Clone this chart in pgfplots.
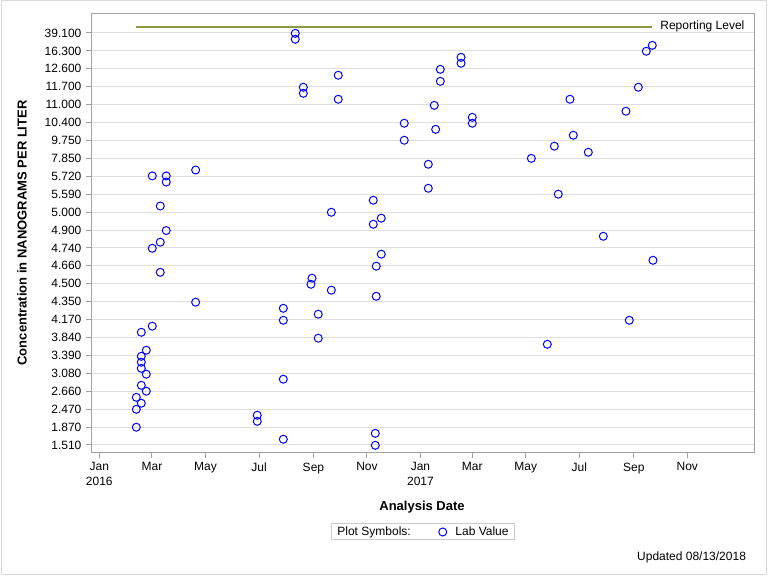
\documentclass[border=0pt]{standalone}
\usepackage{fontspec}
\setmainfont{Liberation Sans}
\usepackage{pgfplots}
\pgfplotsset{compat=1.18}
\usepackage{pgfplotstable}
\definecolor{labblue}{RGB}{0,0,255}
\definecolor{reportgreen}{RGB}{134,156,70}
\definecolor{framegray}{RGB}{160,160,160}
\definecolor{gridgray}{RGB}{222,222,222}

% x: days since 1 Jan 2016, y: position on the discrete concentration axis
\pgfplotstableread{
day idx
60.4 15.02
76.3 15.02
76.3 14.68
109.8 15.35
69.5 13.34
76.3 11.97
69.5 11.32
60.4 10.98
69.5 9.64
109.8 7.97
60.4 6.63
47.9 6.29
53.6 5.29
47.9 4.95
47.9 4.62
47.9 4.28
53.6 3.95
47.9 3.33
53.6 3.00
42.2 2.66
47.9 2.33
42.2 1.99
42.2 0.99
180.0 1.66
180.0 1.32
223.3 22.98
223.3 22.65
412.2 21.64
412.2 21.31
388.6 20.97
272.3 20.64
388.6 20.30
232.5 19.97
232.5 19.63
272.3 19.30
381.7 18.96
425.0 18.29
425.0 17.96
347.5 17.96
383.3 17.62
347.5 17.01
492.3 16.00
374.9 15.67
374.9 14.33
312.2 13.66
264.4 12.99
321.3 12.66
312.2 12.32
321.3 10.65
315.6 9.98
242.4 9.31
241.2 8.97
264.4 8.64
315.6 8.30
209.7 7.63
249.5 7.30
209.7 6.96
249.5 5.96
209.7 3.67
314.5 0.65
209.7 0.32
314.5 -0.02
630.1 22.31
623.3 21.98
614.2 19.97
536.3 19.30
600.1 18.63
540.1 17.29
518.5 16.68
557.2 16.34
523.0 14.00
574.3 11.65
630.9 10.31
603.9 6.96
510.5 5.62
}\labdata

\begin{document}
\begin{tikzpicture}
\path (0,0) rectangle (576pt,432pt);
\draw[gray!30, line width=0.75pt] (0.75pt,1.1pt) rectangle (575pt,431.25pt);
\begin{axis}[
  at={(68.6pt,92.5pt)}, anchor=south west,
  scale only axis, width=496.9pt, height=329.55pt,
  xmin=-8.9, xmax=746, ymin=-0.43, ymax=24.10,
  axis line style={framegray, line width=0.75pt},
  tick pos=left, tick align=outside, major tick length=4pt,
  tick style={framegray, line width=0.75pt},
  xtick={0,60,121,182,244,305,366,425,486,547,609,670},
  xticklabels={Jan\\2016,Mar,May,Jul,Sep,Nov,Jan\\2017,Mar,May,Jul,Sep,Nov},
  xticklabel style={align=center, font=\fontsize{9}{11}\selectfont},
  ytick={0,...,23},
  yticklabels={1.510,1.870,2.470,2.660,3.080,3.390,3.840,4.170,4.350,4.500,4.660,4.740,4.900,5.000,5.590,5.720,7.850,9.750,10.400,11.000,11.700,12.600,16.300,39.100},
  yticklabel style={font=\fontsize{9}{11}\selectfont},
  ymajorgrids, grid style={gridgray, line width=0.75pt},
  xlabel={Analysis Date},
  xlabel style={font=\bfseries\fontsize{9.75}{12}\selectfont, at={(axis description cs:0.4989,-0.1236)}, anchor=center},
  ylabel={Concentration in NANOGRAMS PER LITER},
  ylabel style={font=\bfseries\fontsize{9.75}{12}\selectfont, at={(axis description cs:-0.1049,0.5)}, anchor=center},
  legend style={at={(axis description cs:0.5004,-0.1805)}, anchor=center,
    draw=gray!40, line width=0.75pt, font=\fontsize{9}{11}\selectfont,
    inner xsep=3.5pt, inner ysep=0.5pt,
    nodes={inner xsep=1pt, inner ysep=1.5pt},
    /tikz/column 2/.style={column sep=20pt},
    /tikz/column 3/.style={column sep=5.5pt}},
  legend columns=2,
  legend cell align=left,
]
\addlegendimage{empty legend}
\addlegendentry{Plot Symbols:}
\addplot[reportgreen, line width=1.5pt, forget plot] coordinates {(41.5,23.35)(630.1,23.35)};
\node[anchor=west, font=\fontsize{9}{11}\selectfont, inner sep=1pt] at (axis cs:637.5,23.35) {Reporting Level};
\addplot[only marks, mark=o, mark size=3pt, mark options={labblue, line width=0.75pt}] table {\labdata};
\addlegendentry{Lab Value}
\end{axis}
\node[anchor=east, font=\fontsize{9}{11}\selectfont] at (563pt,14.25pt) {Updated 08/13/2018};
\end{tikzpicture}
\end{document}
